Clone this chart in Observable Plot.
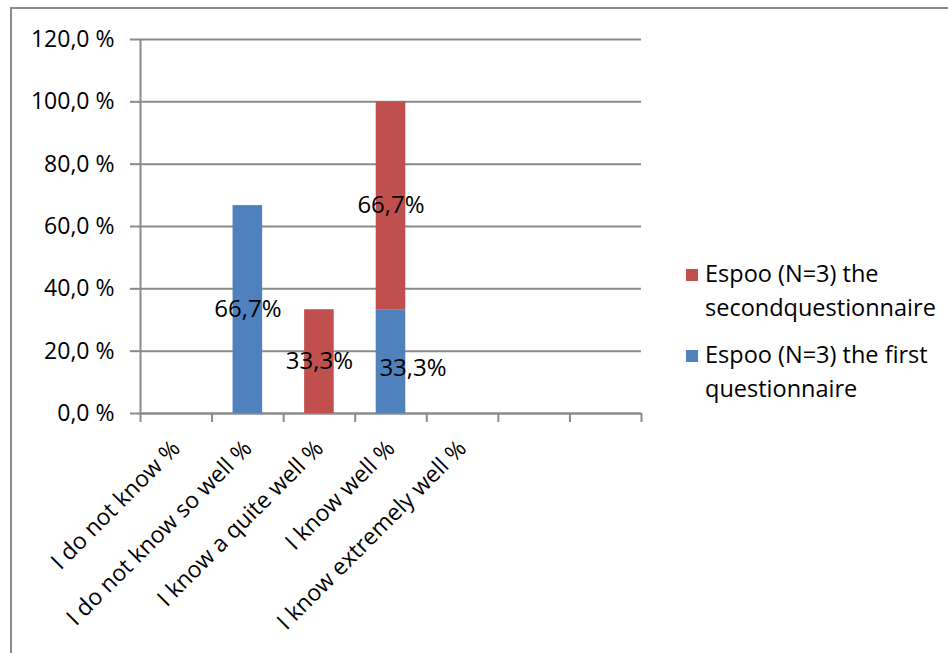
<!DOCTYPE html>
<html>
<head>
<meta charset="utf-8">
<script src="https://cdn.jsdelivr.net/npm/d3@7"></script>
<script src="https://cdn.jsdelivr.net/npm/@observablehq/plot@0.6"></script>
<style>
  html, body { margin: 0; padding: 0; background: #fff; }
  #wrap { position: relative; width: 948px; height: 653px; overflow: hidden; font-family: "Open Sans", sans-serif; }
  #frame { position: absolute; left: 10px; top: 7px; width: 960px; height: 700px; border-left: 2px solid #8a8a8a; border-top: 2px solid #8a8a8a; box-sizing: border-box; }
  #chart { position: absolute; left: 0; top: 0; }
  #legend { position: absolute; left: 686px; top: 256px; font-size: 23.5px; line-height: 34px; color: #000; white-space: nowrap; }
  .item { position: relative; padding-left: 19px; margin-bottom: 13px; }
  .sw { position: absolute; left: 0; top: 13px; width: 12px; height: 12px; }
</style>
</head>
<body>
<div id="wrap">
  <div id="frame"></div>
  <div id="chart"></div>
  <div id="legend"></div>
</div>
<script>
const categories = ["I do not know %", "I do not know so well %", "I know a quite well %", "I know well %", "I know extremely well %"];
const slotCount = 7;
const seriesNames = ["Espoo (N=3) the first questionnaire", "Espoo (N=3) the secondquestionnaire"];
const firstValues = [0, 66.7, 0, 33.3, 0];
const secondValues = [0, 0, 33.3, 66.7, 0];
const yTicks = [0, 20, 40, 60, 80, 100, 120];
const colors = ["#4F81BD", "#C0504D"];

const rows = [];
firstValues.forEach((v, i) => rows.push({i, cat: categories[i], series: seriesNames[0], value: v}));
secondValues.forEach((v, i) => rows.push({i, cat: categories[i], series: seriesNames[1], value: v}));

const fmtPct = v => v.toFixed(1).replace(".", ",") + "%";
const fmtTick = v => v.toFixed(1).replace(".", ",") + " %";
// a bottom label in a stack that holds both series is nudged aside (as the spreadsheet does)
const nudged = d => d.series === seriesNames[0] && d.value > 0 && secondValues[d.i] > 0;
const gray = "#8a8a8a";
const font = "'Open Sans', sans-serif";

const chart = Plot.plot({
  width: 948,
  height: 653,
  marginLeft: 140,
  marginRight: 307,
  marginTop: 39,
  marginBottom: 240,
  style: {fontFamily: font, fontSize: "23px", color: "#000", background: "transparent"},
  x: {type: "linear", domain: [0, slotCount], axis: null},
  y: {domain: [0, 120], axis: null},
  color: {domain: seriesNames, range: colors},
  marks: [
    Plot.gridY(yTicks, {stroke: gray, strokeOpacity: 1, strokeWidth: 2}),
    Plot.axisY({ticks: yTicks, tickSize: 10, tickPadding: 16, tickFormat: fmtTick, stroke: gray, strokeWidth: 2, fontSize: 23, label: null}),
    Plot.axisX({ticks: d3.range(slotCount + 1), tickSize: 9, tickFormat: () => "", stroke: gray, strokeWidth: 2, label: null}),
    Plot.ruleX([0], {stroke: gray, strokeWidth: 2}),
    Plot.ruleY([0], {stroke: gray, strokeWidth: 2}),
    Plot.rect(rows, Plot.stackY({
      x: d => d.i, y: "value", z: "series",
      x1: d => d.i, x2: d => d.i + 1,
      fill: "series", insetLeft: 21, insetRight: 21
    })),
    Plot.text(rows, Plot.stackY({
      x: d => d.i + 0.5, y: "value", z: "series",
      text: d => (d.value > 0 && !nudged(d)) ? fmtPct(d.value) : "",
      fill: "#000", fontSize: 24
    })),
    Plot.text(rows, Plot.stackY({
      x: d => d.i + 0.5, y: "value", z: "series",
      text: d => nudged(d) ? fmtPct(d.value) : "",
      fill: "#000", fontSize: 24, dx: 22, dy: 7
    })),
    Plot.text(categories, {
      x: (d, i) => i + 0.5, y: () => 0, text: d => d,
      rotate: -45, textAnchor: "end", lineAnchor: "middle",
      dx: 0, dy: 31, fontSize: 23, fill: "#000"
    })
  ]
});
document.getElementById("chart").appendChild(chart);

const legendItems = [
  {label: ["Espoo (N=3) the", "secondquestionnaire"], color: colors[1]},
  {label: ["Espoo (N=3) the first", "questionnaire"], color: colors[0]}
];
const legend = document.getElementById("legend");
legendItems.forEach(it => {
  const div = document.createElement("div");
  div.className = "item";
  const sw = document.createElement("span");
  sw.className = "sw";
  sw.style.background = it.color;
  div.appendChild(sw);
  it.label.forEach((l, k) => {
    if (k) div.appendChild(document.createElement("br"));
    div.appendChild(document.createTextNode(l));
  });
  legend.appendChild(div);
});
</script>
</body>
</html>
